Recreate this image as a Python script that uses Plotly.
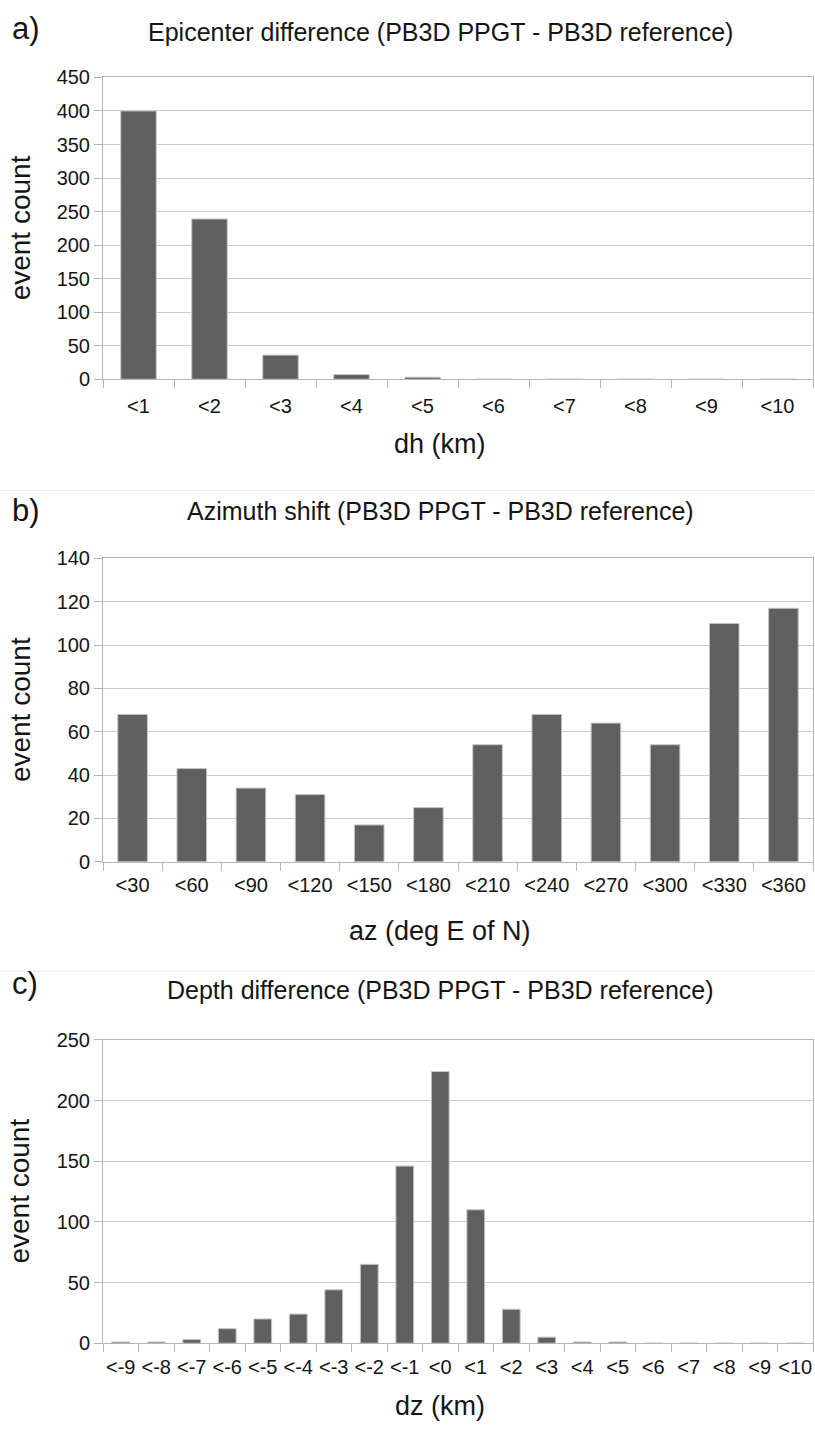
import plotly.graph_objects as go

# ---- data ----
dh_labels = ["<1", "<2", "<3", "<4", "<5", "<6", "<7", "<8", "<9", "<10"]
dh_counts = [400, 239, 36, 7, 3, 0, 0, 0, 0, 0]

az_labels = ["<30", "<60", "<90", "<120", "<150", "<180", "<210", "<240", "<270", "<300", "<330", "<360"]
az_counts = [68, 43, 34, 31, 17, 25, 54, 68, 64, 54, 110, 117]

dz_labels = ["<-9", "<-8", "<-7", "<-6", "<-5", "<-4", "<-3", "<-2", "<-1", "<0",
             "<1", "<2", "<3", "<4", "<5", "<6", "<7", "<8", "<9", "<10"]
dz_counts = [1, 1, 3, 12, 20, 24, 44, 65, 146, 224, 110, 28, 5, 1, 1, 0, 0, 0, 0, 0]

W, H = 815, 1432
FONT = "Liberation Sans"
BAR = "#5f5f5f"
GRID = "#cccccc"
AXC = "#b5b5b5"
TXT = "#151515"

def py(px):
    return 1 - px / H

def px_x(px):
    return px / W

fig = go.Figure()

panels = [
    dict(lbl=dh_labels, val=dh_counts, top=67.5, bot=374, ymax=450, dt=50, so=9,
         title="Epicenter difference (PB3D PPGT - PB3D reference)", ty=21, ly=18,
         letter="a)", xt="dh (km)", xty=440),
    dict(lbl=az_labels, val=az_counts, top=556, bot=864, ymax=140, dt=20, so=5,
         title="Azimuth shift (PB3D PPGT - PB3D reference)", ty=508, ly=507,
         letter="b)", xt="az (deg E of N)", xty=934),
    dict(lbl=dz_labels, val=dz_counts, top=1045, bot=1353, ymax=250, dt=50, so=6,
         title="Depth difference (PB3D PPGT - PB3D reference)", ty=994, ly=988,
         letter="c)", xt="dz (km)", xty=1417),
]

annotations = []
shapes = []
for i, p in enumerate(panels):
    n = i + 1
    xa = "x" if n == 1 else f"x{n}"
    ya = "y" if n == 1 else f"y{n}"
    fig.add_trace(go.Bar(
        x=p["lbl"], y=p["val"], xaxis=xa, yaxis=ya, width=0.5,
        marker=dict(color=BAR, line=dict(color="#c4c4c4", width=1)),
        showlegend=False, hoverinfo="x+y"))
    xkey = "xaxis" if n == 1 else f"xaxis{n}"
    ykey = "yaxis" if n == 1 else f"yaxis{n}"
    fig.layout[xkey] = dict(
        domain=[px_x(103), px_x(813)], anchor=ya, type="category",
        tickson="boundaries", ticks="outside", ticklen=8, tickcolor=AXC,
        showline=True, linecolor=AXC, linewidth=1, mirror=True,
        showgrid=False, tickfont=dict(family=FONT, size=20, color=TXT),
        ticklabelstandoff=p["so"], tickangle=0, fixedrange=True)
    fig.layout[ykey] = dict(
        domain=[py(p["bot"]), py(p["top"])], anchor=xa,
        range=[0, p["ymax"]], dtick=p["dt"], tick0=0,
        ticks="outside", ticklen=8, tickcolor=AXC,
        showline=True, linecolor=AXC, linewidth=1, mirror=True,
        showgrid=True, gridcolor=GRID, gridwidth=1, zeroline=False,
        tickfont=dict(family=FONT, size=20, color=TXT),
        fixedrange=True)
    annotations.append(dict(text=p["title"], x=px_x(440), y=py(p["ty"]), xref="paper", yref="paper",
                            xanchor="center", yanchor="middle", showarrow=False,
                            font=dict(family=FONT, size=25, color=TXT)))
    annotations.append(dict(text=p["letter"], x=px_x(10), y=py(p["ly"]), xref="paper", yref="paper",
                            xanchor="left", yanchor="middle", showarrow=False,
                            font=dict(family=FONT, size=31, color=TXT)))
    annotations.append(dict(text=p["xt"], x=px_x(440), y=py(p["xty"]), xref="paper", yref="paper",
                            xanchor="center", yanchor="middle", showarrow=False,
                            font=dict(family=FONT, size=27, color=TXT)))
    annotations.append(dict(text="event count", x=px_x(20), y=py((p["top"] + p["bot"]) / 2),
                            xref="paper", yref="paper", textangle=-90,
                            xanchor="center", yanchor="middle", showarrow=False,
                            font=dict(family=FONT, size=28, color=TXT)))

for sep in (487, 975):
    shapes.append(dict(type="line", xref="paper", yref="paper", x0=0, x1=1,
                       y0=py(sep), y1=py(sep), line=dict(color="#eeeeee", width=1)))

fig.update_layout(width=W, height=H, margin=dict(l=0, r=0, t=0, b=0),
                  paper_bgcolor="white", plot_bgcolor="white",
                  annotations=annotations, shapes=shapes, bargap=0.5)

fig.write_html("out.html", config={"displayModeBar": False},
               post_script="document.body.style.margin='0';document.documentElement.style.overflow='hidden';")
